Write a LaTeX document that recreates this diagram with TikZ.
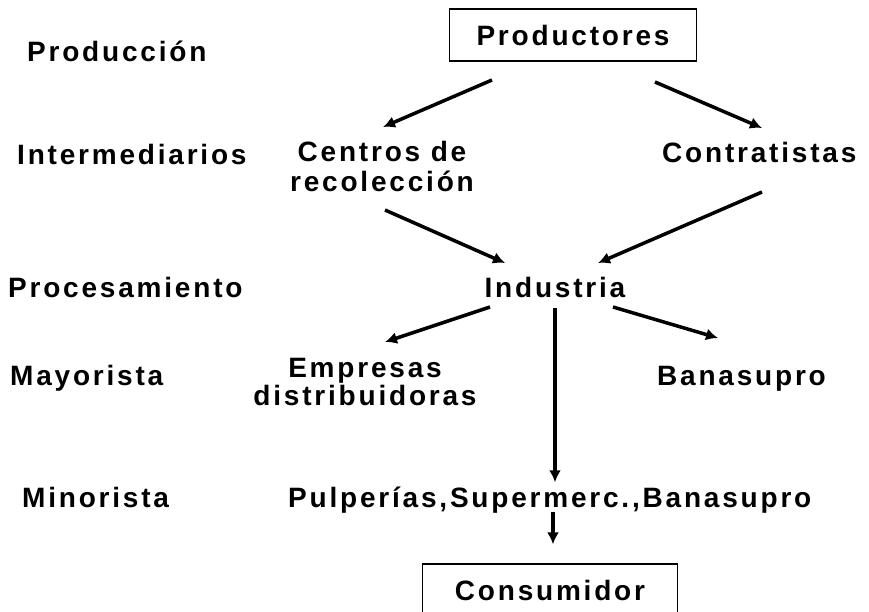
\documentclass[tikz,border=0pt]{standalone}
\usepackage{fontspec}
\setmainfont{Liberation Sans}[LetterSpace=10]
\usetikzlibrary{arrows.meta}
\usetikzlibrary{calc}

\tikzset{
	lbl/.style={font=\bfseries\fontsize{28}{30}\selectfont,inner sep=0pt,align=center},
	boxed/.style={draw,line width=1.3pt,inner sep=0pt,minimum height=52pt},
	flow/.style={line width=3.5pt,-{Latex[length=12pt,width=12pt]}},
}

\begin{document}
\begin{tikzpicture}[x=1pt,y=-1pt]
	\useasboundingbox (0,0) rectangle (869,611);

	%level labels
	\node[lbl,anchor=base west] (lprod)  at (27,61)  {Producción};
	\node[lbl,anchor=base west] (linter) at (17,164) {Intermediarios};
	\node[lbl,anchor=base west] (lproc)  at (8,297)  {Procesamiento};
	\node[lbl,anchor=base west] (lmay)   at (10,385) {Mayorista};
	\node[lbl,anchor=base west] (lmin)   at (22,507) {Minorista};

	%chain
	\node[lbl,boxed,minimum width=247pt] (prod) at (573,35) {Productores};
	\node[lbl,anchor=base] (centros) at (382,191) {Centros de\\recolección};	%base = last line
	\node[lbl,anchor=base west] (contrat) at (662,162) {Contratistas};
	\node[lbl,anchor=base] (indus)   at (555,297) {Industria};
	\node[lbl,anchor=base,font=\bfseries\fontsize{28}{21}\selectfont] (empresas) at (365,405) {Empresas\\distribuidoras};
	\node[lbl,anchor=base west] (banas)  at (657,385) {Banasupro};
	\node[lbl,anchor=base west] (pulper) at (288,507) {Pulperías,Supermerc.,Banasupro};
	\node[lbl,boxed,minimum width=255pt] (consum) at (550,590) {Consumidor};

	%arrows
	\draw[flow] ($(prod.center)+(-81,45)$)       -- ($(centros.base)+(1,-64)$);
	\draw[flow] ($(prod.center)+(82,47)$)        -- ($(contrat.base west)+(100,-34)$);
	\draw[flow] ($(centros.base)+(3,19)$)        -- ($(indus.base)+(-50,-34)$);
	\draw[flow] ($(contrat.base west)+(100,30)$) -- ($(indus.base)+(43,-34)$);
	\draw[flow] ($(indus.base)+(-65,10)$)        -- ($(empresas.base)+(20,-63)$);
	\draw[flow] ($(indus.base)+(58,10)$)         -- ($(banas.base west)+(61,-47)$);
	\draw[flow] ($(indus.base)+(0,11)$)          -- ($(indus.base |- pulper.north)+(0,-4)$);
	\draw[flow] ($(consum.north)+(3,-51)$)       -- ($(consum.north)+(3,-19)$);
\end{tikzpicture}
\end{document}
